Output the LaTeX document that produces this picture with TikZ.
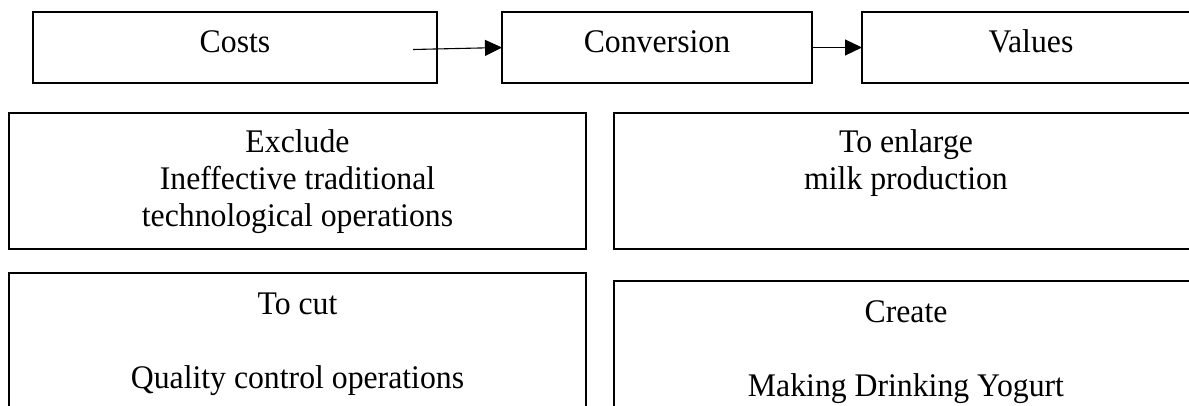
\documentclass[tikz,border=0pt]{standalone}
\usepackage{fontspec}
\setmainfont{Liberation Serif}[FakeStretch=0.962]
\usetikzlibrary{arrows.meta}
\begin{document}
\begin{tikzpicture}[x=1pt,y=-1pt,
  boxnode/.style={draw=black, line width=1.6pt, rectangle, anchor=north west, inner sep=0pt, outer sep=0pt},
  txt/.style={anchor=base, inner sep=0pt, font=\fontsize{33}{37}\selectfont},
  arr/.style={line width=1.1pt, -{Triangle[length=17pt,width=16pt]}}]
\useasboundingbox (0,0) rectangle (1189,406);
\clip (0,0) rectangle (1189,406);
% top row
\node[boxnode, minimum width=404pt, minimum height=71pt] (costs) at (33,12) {};
\node[boxnode, minimum width=310pt, minimum height=71pt] (conv) at (502,12) {};
\node[boxnode, minimum width=338pt, minimum height=71pt] (vals) at (862,12) {};
\node[txt] (tcosts) at (235,53) {Costs};
\node[txt] (tconv) at (657,53) {Conversion};
\node[txt] (tvals) at (1031,53) {Values};
\coordinate (a1s) at (413,49.5);
\draw[arr] (a1s) -- (conv.west);
\draw[arr] (conv.east) -- (vals.west);
% second row
\node[boxnode, minimum width=577pt, minimum height=136pt] (excl) at (9,113) {};
\node[boxnode, minimum width=586pt, minimum height=136pt] (enl) at (614,113) {};
\node[txt] (ex1) at (297.5,153) {Exclude};
\node[txt] (ex2) at (297.5,190) {Ineffective traditional};
\node[txt] (ex3) at (297.5,227) {technological operations};
\node[txt] (en1) at (906,153) {To enlarge};
\node[txt] (en2) at (906,190) {milk production};
% third row
\node[boxnode, minimum width=577pt, minimum height=150pt] (cut) at (9,273) {};
\node[boxnode, minimum width=586pt, minimum height=150pt] (create) at (614,281) {};
\node[txt] (cu1) at (297.5,314) {To cut};
\node[txt] (cu2) at (297.5,388) {Quality control operations};
\node[txt] (cr1) at (906,322) {Create};
\node[txt] (cr2) at (906,396) {Making Drinking Yogurt};
\end{tikzpicture}
\end{document}
